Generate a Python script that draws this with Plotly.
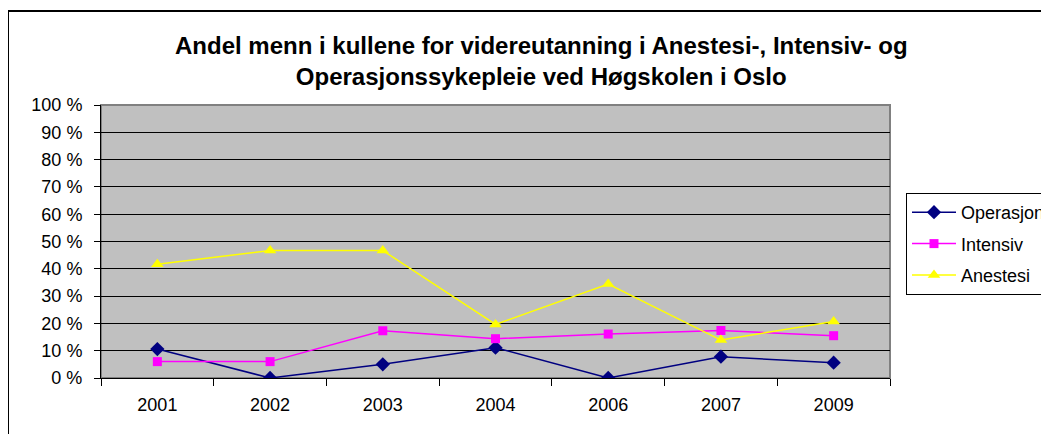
import plotly.graph_objects as go

years = ["2001", "2002", "2003", "2004", "2006", "2007", "2009"]
operasjon = [10.6, 0, 5.0, 11.1, 0, 7.8, 5.6]
intensiv = [6.0, 6.0, 17.3, 14.4, 16.1, 17.4, 15.5]
anestesi = [41.7, 46.7, 46.7, 19.6, 34.4, 13.9, 20.7]
y_ticks = list(range(0, 101, 10))
y_tick_text = [f"{v} %" for v in y_ticks]

title_text = ("Andel menn i kullene for videreutanning i Anestesi-, Intensiv- og"
              "<br>Operasjonssykepleie ved Høgskolen i Oslo")

FONT = "Liberation Sans, Arial, sans-serif"

# page body has an 8px margin; work in screen pixels and shift
OFF = 8
L, R, T, B = 101 - OFF, 890 - OFF, 105 - OFF, 378 - OFF
W, H = 1049 - OFF, 434 - OFF
pw, ph = R - L, B - T


def px_x(px):
    return (px - OFF - L) / pw


def px_y(py):
    return (B - (py - OFF)) / ph


fig = go.Figure()
fig.add_trace(go.Scatter(
    x=years, y=operasjon, name="Operasjon", mode="lines+markers",
    line=dict(color="#000080", width=1.5),
    marker=dict(symbol="diamond", size=11, color="#000080"),
    legendgroup="a"))
fig.add_trace(go.Scatter(
    x=years, y=intensiv, name="Intensiv", mode="lines+markers",
    line=dict(color="#FF00FF", width=1.5),
    marker=dict(symbol="square", size=9, color="#FF00FF"),
    legendgroup="b"))
fig.add_trace(go.Scatter(
    x=years, y=anestesi, name="Anestesi", mode="lines+markers",
    line=dict(color="#FFFF00", width=1.5),
    marker=dict(symbol="triangle-up", size=11, color="#FFFF00"),
    legendgroup="c"))

fig.update_layout(
    width=W, height=H,
    margin=dict(l=L, r=W - R, t=T, b=H - B, autoexpand=False),
    paper_bgcolor="white",
    plot_bgcolor="#C0C0C0",
    font=dict(family=FONT, size=18, color="black"),
    showlegend=True,
    legend=dict(
        x=px_x(906), y=px_y(193), xanchor="left", yanchor="top",
        bgcolor="white", bordercolor="black", borderwidth=1,
        font=dict(family=FONT, size=18, color="black"),
        itemwidth=44, tracegroupgap=5, traceorder="grouped",
    ),
    xaxis=dict(
        type="category", range=[-0.5, 6.5],
        tickson="boundaries", ticks="outside", ticklen=7, tickcolor="black",
        showline=True, linecolor="black", linewidth=1,
        showgrid=False, zeroline=False, ticklabelstandoff=10,
        tickfont=dict(family=FONT, size=18, color="black"),
    ),
    yaxis=dict(
        range=[0, 100], tickmode="array", tickvals=y_ticks, ticktext=y_tick_text,
        ticks="outside", ticklen=6, tickcolor="black",
        showline=True, linecolor="black", linewidth=1,
        showgrid=True, gridcolor="black", gridwidth=1,
        zeroline=False, ticklabelstandoff=8,
        tickfont=dict(family=FONT, size=18, color="black"),
    ),
    annotations=[dict(
        text=title_text, xref="paper", yref="paper",
        x=px_x(541), y=px_y(61), xanchor="center", yanchor="middle",
        showarrow=False, align="center",
        font=dict(family=FONT, size=24, color="black", weight="bold"),
    )],
    shapes=[
        dict(type="rect", xref="paper", yref="paper", x0=0, x1=1, y0=0, y1=1,
             line=dict(color="#808080", width=2), layer="below"),
        dict(type="rect", xref="paper", yref="paper",
             x0=px_x(8), x1=px_x(1080), y0=px_y(470), y1=px_y(11),
             line=dict(color="black", width=2), layer="above"),
    ],
)

fig.write_html("out.html")
